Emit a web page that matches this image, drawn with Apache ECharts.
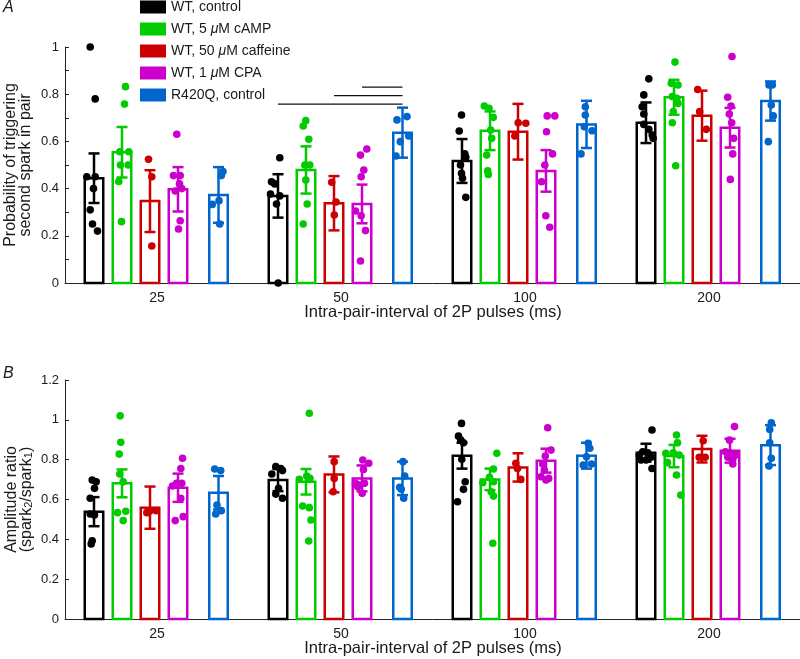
<!DOCTYPE html>
<html>
<head>
<meta charset="utf-8">
<script src="https://cdn.jsdelivr.net/npm/echarts@6/dist/echarts.min.js"></script>
<style>html,body{margin:0;padding:0;background:#fff}#c{width:800px;height:659px}</style>
</head>
<body>
<div id="c"></div>
<script>
// ---------- DATA ----------
const categories = ['25', '50', '100', '200'];
const conditionNames = ['WT, control', 'WT, 5 μM cAMP', 'WT, 50 μM caffeine', 'WT, 1 μM CPA', 'R420Q, control'];

// Panel A: probability of triggering second spark (bar = mean, err = SEM)
const probControl = [0.444, 0.369, 0.517, 0.679];
const probCamp    = [0.554, 0.479, 0.645, 0.787];
const probCaff    = [0.347, 0.338, 0.641, 0.709];
const probCpa     = [0.397, 0.335, 0.475, 0.658];
const probR420Q   = [0.373, 0.637, 0.672, 0.771];
const probErrControl = [0.105, 0.092, 0.093, 0.086];
const probErrCamp    = [0.107, 0.100, 0.082, 0.074];
const probErrCaff    = [0.131, 0.115, 0.118, 0.106];
const probErrCpa     = [0.094, 0.082, 0.088, 0.084];
const probErrR420Q   = [0.118, 0.106, 0.100, 0.083];

const probPtsControl = [[1.0,0.78,0.45,0.45,0.40,0.31,0.25,0.22],[0.531,0.429,0.42,0.377,0.369,0.335,0.0],[0.712,0.644,0.547,0.533,0.50,0.465,0.444,0.363],[0.865,0.797,0.747,0.716,0.672,0.651,0.627,0.613]];
const probPtsCamp    = [[0.832,0.758,0.556,0.556,0.50,0.50,0.43,0.26],[0.688,0.665,0.609,0.50,0.50,0.436,0.335,0.25],[0.75,0.74,0.702,0.648,0.613,0.542,0.475,0.46],[0.936,0.846,0.839,0.79,0.783,0.761,0.726,0.679,0.497]];
const probPtsCaff    = [[0.524,0.45,0.157],[0.427,0.343,0.288],[0.679,0.677,0.623],[0.82,0.726,0.651]];
const probPtsCpa     = [[0.63,0.455,0.455,0.42,0.40,0.39,0.264,0.229],[0.568,0.542,0.479,0.45,0.305,0.285,0.222,0.093],[0.708,0.708,0.641,0.547,0.50,0.429,0.285,0.236],[0.96,0.787,0.75,0.716,0.679,0.613,0.547,0.439]];
const probPtsR420Q   = [[0.472,0.455,0.349,0.333,0.25],[0.705,0.691,0.623,0.599,0.538],[0.747,0.712,0.662,0.645,0.547],[0.839,0.839,0.754,0.708,0.599]];

// Panel B: amplitude ratio
const ampControl = [0.539, 0.698, 0.820, 0.835];
const ampCamp    = [0.681, 0.689, 0.701, 0.818];
const ampCaff    = [0.559, 0.726, 0.761, 0.853];
const ampCpa     = [0.659, 0.706, 0.795, 0.845];
const ampR420Q   = [0.634, 0.706, 0.820, 0.873];
const ampErrControl = [0.073, 0.056, 0.065, 0.045];
const ampErrCamp    = [0.070, 0.064, 0.054, 0.056];
const ampErrCaff    = [0.106, 0.090, 0.071, 0.067];
const ampErrCpa     = [0.071, 0.065, 0.060, 0.060];
const ampErrR420Q   = [0.084, 0.084, 0.065, 0.100];

const ampPtsControl = [[0.698,0.689,0.656,0.606,0.527,0.522,0.393,0.377],[0.765,0.756,0.745,0.728,0.656,0.627,0.606],[0.982,0.918,0.898,0.885,0.802,0.689,0.651,0.589],[0.949,0.84,0.835,0.823,0.812,0.798,0.798,0.756]];
const ampPtsCamp    = [[1.02,0.887,0.828,0.728,0.689,0.541,0.534,0.494],[1.033,0.718,0.706,0.701,0.567,0.559,0.497,0.392],[0.832,0.753,0.711,0.689,0.684,0.639,0.617,0.38],[0.924,0.885,0.835,0.832,0.823,0.785,0.723,0.622]];
const ampPtsCaff    = [[0.544,0.541,0.534],[0.79,0.706,0.639],[0.782,0.756,0.701],[0.895,0.812,0.812]];
const ampPtsCpa     = [[0.807,0.756,0.681,0.681,0.668,0.606,0.514,0.494],[0.798,0.782,0.751,0.681,0.681,0.673,0.664,0.631],[0.96,0.848,0.818,0.778,0.748,0.714,0.706,0.698],[0.966,0.898,0.84,0.832,0.823,0.812,0.802,0.778]];
const ampPtsR420Q   = [[0.753,0.745,0.572,0.544,0.527],[0.79,0.718,0.661,0.651,0.606],[0.882,0.857,0.815,0.778,0.773],[0.985,0.952,0.885,0.807,0.768]];

// Significance brackets (panel A, 50 ms group): from condition -> to condition
const sigFrom = [3, 2, 0];
const sigTo = [4, 4, 4];
const sigLevel = [0.830, 0.794, 0.758];
const sigCategory = 1;

// ---------- horizontal jitter of dots (pixels, relative to bar centre) ----------
const jitProbControl = [[-3.8,1.2,-7.2,1.2,-0.5,-3.8,-1.5,3.5],[1.8,-6.5,-3.2,-7.5,1.8,-1.5,0.2],[-0.5,-2.8,2.8,3.8,-1.5,-0.5,0.5,3.8],[2.8,-2.2,-3.8,-2.2,-2.2,2.8,6.2,7.2]];
const jitProbCamp    = [[3.5,2.5,-2.2,6.8,-1.5,6.2,-3.2,-0.5],[-0.2,-2.8,2.8,-1.2,3.8,-0.2,1.2,-2.8],[-5.7,-1,3.3,0.7,1.7,-3.3,-2.3,-1.7],[1,-2.7,4,-1.7,2.7,4,-0.7,-1.7,1.7]];
const jitProbCaff    = [[-1.5,1.8,1.8],[-2.3,2,0.3],[0.2,7.8,-3.2],[-4.3,-2.3,4.3]];
const jitProbCpa     = [[-1.2,-4.5,2.2,1.5,3.8,-2.8,2.2,0.5],[4.8,-1.5,1.8,-0.8,-6.5,-0.8,3.5,-1.5],[1.2,8.8,0.5,6.5,-1.2,-4.5,-0.2,3.8],[2,-2.3,1,-0.7,1.7,3.7,2.7,0.3]];
const jitProbR420Q   = [[4.5,2.8,0.5,-6.2,1.2],[4.5,-5.5,6.2,-2.2,-6.5],[-1.2,-1.2,-2.2,5.5,-5.5],[-1.5,1.8,0.8,2.8,-2.2]];
const jitAmpControl = [[-1.8,2.2,0.5,-3.8,-3.8,0.5,-1.8,-2.8],[-2.2,2.8,4.5,-6.2,0.5,-2.2,4.5],[-0.5,-3.5,-1.2,1.5,-0.2,3.2,1.5,-4.5],[6,-3.3,1.7,-6.7,5,0,-5,6]];
const jitAmpCamp    = [[-1.8,-1.2,-2.8,-2.2,1.2,3.8,-4.5,1.2],[3.3,0.7,4,-6.7,-3.3,3.3,5,2.7],[6.8,3.5,-0.5,3.5,-7.2,1.2,3.5,2.8],[2.5,3.5,-0.8,-8.2,5.2,-6.5,2.5,6.8]];
const jitAmpCaff    = [[6.2,-0.5,-3.2],[0.2,0.2,-0.8],[-2.2,-0.5,2.8],[1.2,-2.8,3.2]];
const jitAmpCpa     = [[4.5,2.8,3.8,-1.5,-5.5,2.8,5.2,-2.8],[0.8,6.8,1.5,-6.5,2.5,-2.5,-4.2,0.2],[1.7,5,-0.7,-3.3,-1.7,-5,2.7,0],[4.5,-0.5,-4.5,1.2,5.5,-2.2,2.8,2.8]];
const jitAmpR420Q   = [[-3.8,2.2,-1.5,2.8,-2.8],[0.5,2.2,-2.8,-1.2,1.2],[1.7,3.3,0,5,-3.3],[0.8,-0.8,-0.8,0.8,-1.5]];

// ---------- STYLE / LAYOUT ----------
const colors = ['#000000', '#00cc00', '#cc0000', '#cc00cc', '#0066cc'];
const REF_BAND = 184;
const slotOffsets = [-63, -35, -7, 21, 61.5];
const BAR_W = 18.5;
const LW = 2.5;
const CAP = 5.5;
const DOT_R = 3.8;
const FONT = '"Liberation Sans", Arial, Helvetica, sans-serif';
const TXT = '#1a1a1a';

const panels = [
  { means: [probControl, probCamp, probCaff, probCpa, probR420Q],
    errs: [probErrControl, probErrCamp, probErrCaff, probErrCpa, probErrR420Q],
    pts: [probPtsControl, probPtsCamp, probPtsCaff, probPtsCpa, probPtsR420Q],
    jit: [jitProbControl, jitProbCamp, jitProbCaff, jitProbCpa, jitProbR420Q] },
  { means: [ampControl, ampCamp, ampCaff, ampCpa, ampR420Q],
    errs: [ampErrControl, ampErrCamp, ampErrCaff, ampErrCpa, ampErrR420Q],
    pts: [ampPtsControl, ampPtsCamp, ampPtsCaff, ampPtsCpa, ampPtsR420Q],
    jit: [jitAmpControl, jitAmpCamp, jitAmpCaff, jitAmpCpa, jitAmpR420Q] }
];

const series = [];
panels.forEach((p, g) => {
  for (let s = 0; s < 5; s++) {
    const color = colors[s];
    const slot = slotOffsets[s];
    series.push({
      type: 'custom', name: conditionNames[s], xAxisIndex: g, yAxisIndex: g,
      itemStyle: { color: color }, z: 3,
      encode: { x: 0, y: 1 },
      data: p.means[s].map((m, i) => [i, m, p.errs[s][i]]),
      renderItem: function (params, api) {
        const ci = api.value(0), m = api.value(1), e = api.value(2);
        const band = api.size([1, 0])[0];
        const k = band / REF_BAND;
        const top = api.coord([ci, m]);
        const base = api.coord([ci, 0]);
        const hi = api.coord([ci, m + e]);
        const lo = api.coord([ci, m - e]);
        const cx = top[0] + slot * k;
        const w = BAR_W * k;
        return { type: 'group', children: [
          { type: 'rect', shape: { x: cx - w / 2, y: top[1], width: w, height: base[1] - top[1] },
            style: { fill: '#ffffff', stroke: color, lineWidth: LW } },
          { type: 'line', shape: { x1: cx, y1: hi[1], x2: cx, y2: lo[1] }, style: { stroke: color, lineWidth: LW } },
          { type: 'line', shape: { x1: cx - CAP, y1: hi[1], x2: cx + CAP, y2: hi[1] }, style: { stroke: color, lineWidth: LW } },
          { type: 'line', shape: { x1: cx - CAP, y1: lo[1], x2: cx + CAP, y2: lo[1] }, style: { stroke: color, lineWidth: LW } }
        ]};
      }
    });
    const pdata = [];
    p.pts[s].forEach((arr, i) => arr.forEach((v, j) => pdata.push([i, v, p.jit[s][i][j]])));
    series.push({
      type: 'custom', name: conditionNames[s], xAxisIndex: g, yAxisIndex: g,
      itemStyle: { color: color }, z: 4, silent: true,
      encode: { x: 0, y: 1 },
      data: pdata,
      renderItem: function (params, api) {
        const ci = api.value(0), v = api.value(1), jx = api.value(2);
        const band = api.size([1, 0])[0];
        const k = band / REF_BAND;
        const c = api.coord([ci, v]);
        return { type: 'circle', shape: { cx: c[0] + (slot + jx) * k, cy: c[1], r: DOT_R },
                 style: { fill: color } };
      }
    });
  }
});

// significance brackets
series.push({
  type: 'custom', xAxisIndex: 0, yAxisIndex: 0, z: 5, silent: true,
  encode: { x: 0, y: 1 },
  data: sigLevel.map((y, i) => [sigCategory, y, sigFrom[i], sigTo[i]]),
  renderItem: function (params, api) {
    const ci = api.value(0), y = api.value(1);
    const band = api.size([1, 0])[0];
    const k = band / REF_BAND;
    const c = api.coord([ci, y]);
    return { type: 'line', shape: { x1: c[0] + slotOffsets[api.value(2)] * k, y1: c[1],
                                    x2: c[0] + slotOffsets[api.value(3)] * k, y2: c[1] },
             style: { stroke: '#111', lineWidth: 1.4 } };
  }
});

const xAxisCommon = {
  type: 'category', data: categories, boundaryGap: true,
  axisLine: { lineStyle: { color: '#222', width: 1 } },
  axisTick: { show: false },
  axisLabel: { color: TXT, fontSize: 14, fontFamily: FONT, margin: 8 },
  splitLine: { show: false }
};
const yAxisCommon = {
  type: 'value', min: 0,
  axisLine: { show: true, lineStyle: { color: '#222', width: 1 } },
  axisTick: { show: true, inside: true, length: 4, lineStyle: { color: '#222' } },
  axisLabel: { color: TXT, fontSize: 13, fontFamily: FONT, margin: 6 },
  splitLine: { show: false },
  nameLocation: 'middle', nameRotate: 90, nameMoveOverlap: false,
  nameTextStyle: { color: TXT, fontSize: 16, fontFamily: FONT, lineHeight: 15, align: 'center' }
};

const option = {
  animation: false,
  backgroundColor: '#ffffff',
  textStyle: { fontFamily: FONT },
  grid: [
    { left: 65, top: 47, width: 736, height: 236, containLabel: false, outerBoundsMode: 'none' },
    { left: 65, top: 380, width: 736, height: 239, containLabel: false, outerBoundsMode: 'none' }
  ],
  xAxis: [
    Object.assign({}, xAxisCommon, { gridIndex: 0 }),
    Object.assign({}, xAxisCommon, { gridIndex: 1 })
  ],
  yAxis: [
    Object.assign({}, yAxisCommon, { gridIndex: 0, max: 1, interval: 0.2,
      minorTick: { show: true, splitNumber: 2, length: 4, lineStyle: { color: '#222' } },
      name: 'Probability of triggering\nsecond spark in pair', nameGap: 32 }),
    Object.assign({}, yAxisCommon, { gridIndex: 1, max: 1.2, interval: 0.2,
      name: 'Amplitude ratio\n(spark{sub|2}/spark{sub|1})', nameGap: 31,
      nameTextStyle: Object.assign({}, yAxisCommon.nameTextStyle, {
        rich: { sub: { fontSize: 11, verticalAlign: 'bottom', padding: [5, 0, 0, 0], fontFamily: FONT, color: TXT, lineHeight: 15 } } }) })
  ],
  legend: {
    data: conditionNames,
    orient: 'vertical', left: 140, top: -2, padding: 0,
    icon: 'rect', itemWidth: 26, itemHeight: 13, itemGap: 4,
    selectedMode: false,
    textStyle: { color: TXT, fontSize: 14, fontFamily: FONT, lineHeight: 18,
      rich: { it: { fontStyle: 'italic', fontSize: 14, fontFamily: FONT, color: TXT, lineHeight: 18 } } },
    formatter: function (name) { return name.replace('μ', '{it|μ}'); }
  },
  graphic: [
    { type: 'text', left: 3, top: 0, style: { text: 'A', font: 'italic 16px ' + FONT, fill: TXT } },
    { type: 'text', left: 3, top: 366, style: { text: 'B', font: 'italic 16px ' + FONT, fill: TXT } },
    { type: 'text', x: 433, y: 312, style: { text: 'Intra-pair-interval of 2P pulses (ms)', font: '16.5px ' + FONT, fill: TXT, align: 'center', verticalAlign: 'middle' } },
    { type: 'text', x: 433, y: 648, style: { text: 'Intra-pair-interval of 2P pulses (ms)', font: '16.5px ' + FONT, fill: TXT, align: 'center', verticalAlign: 'middle' } }
  ],
  series: series
};

const chart = echarts.init(document.getElementById('c'), null, { renderer: 'canvas' });
chart.setOption(option);
</script>
</body>
</html>
